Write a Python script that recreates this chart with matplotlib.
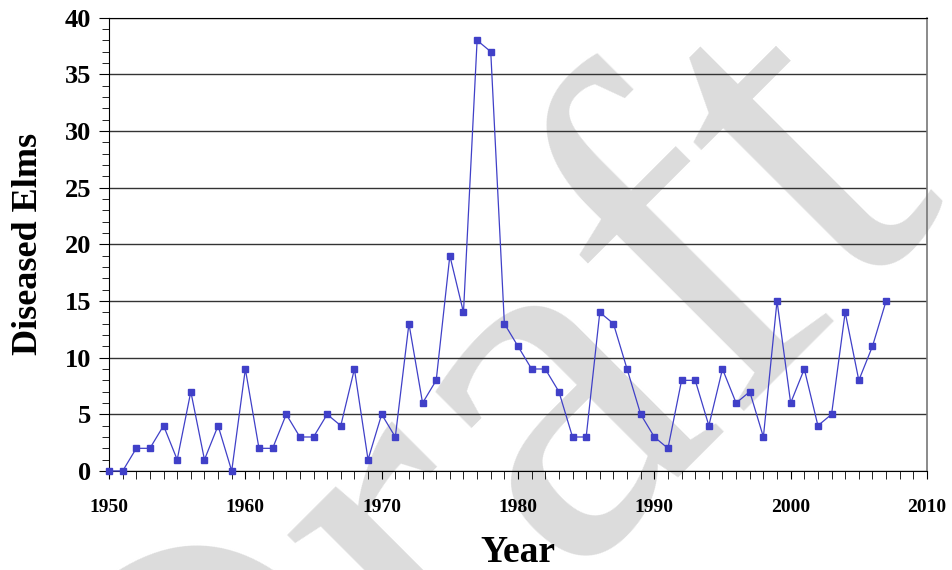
import matplotlib.pyplot as plt
from matplotlib.ticker import MultipleLocator

# Data
years = list(range(1950, 2008))
elms = [0, 0, 2, 2, 4, 1, 7, 1, 4, 0,
        9, 2, 2, 5, 3, 3, 5, 4, 9, 1,
        5, 3, 13, 6, 8, 19, 14, 38, 37, 13,
        11, 9, 9, 7, 3, 3, 14, 13, 9, 5,
        3, 2, 8, 8, 4, 9, 6, 7, 3, 15,
        6, 9, 4, 5, 14, 8, 11, 15]

plt.rcParams['font.family'] = ['Liberation Serif', 'DejaVu Serif']
plt.rcParams['font.weight'] = 'bold'

fig = plt.figure(figsize=(9.53, 5.70), dpi=100)
ax = fig.add_axes([0.1144, 0.1737, 0.9727 - 0.1144, 0.969 - 0.1737])
ax.set_facecolor('none')

# watermark
fig.text(0.50, 0.14, 'Draft', fontsize=370, color='#dcdcdc', rotation=45,
         ha='center', va='center', family='Liberation Serif', fontweight='normal',
         zorder=-10)

ax.plot(years, elms, color='#4040c8', lw=0.9, marker='s', markersize=4.5,
        markeredgecolor='#4040c8', zorder=3, clip_on=False)

ax.set_xlim(1950, 2010)
ax.set_ylim(0, 40)
ax.xaxis.set_major_locator(MultipleLocator(10))
ax.xaxis.set_minor_locator(MultipleLocator(1))
ax.yaxis.set_major_locator(MultipleLocator(5))
ax.yaxis.set_minor_locator(MultipleLocator(1))
ax.grid(axis='y', which='major', color='#333333', lw=1.0, zorder=1)
ax.set_axisbelow(True)

ax.spines['top'].set_color('black')
ax.spines['right'].set_color('#777777')
ax.spines['right'].set_linewidth(1.2)
ax.tick_params(axis='both', which='both', direction='out', color='black')
ax.tick_params(axis='x', which='major', length=6, pad=14, labelsize=14)
ax.tick_params(axis='x', which='minor', length=6)
ax.tick_params(axis='y', which='major', length=7, pad=6, labelsize=19)
ax.tick_params(axis='y', which='minor', length=5)
for lab in ax.get_xticklabels() + ax.get_yticklabels():
    lab.set_fontweight('bold')

ax.set_xlabel('Year', fontsize=27, fontweight='bold', labelpad=14)
ax.set_ylabel('Diseased Elms', fontsize=26, fontweight='bold', labelpad=14)

fig.savefig('out.png', dpi=100)
